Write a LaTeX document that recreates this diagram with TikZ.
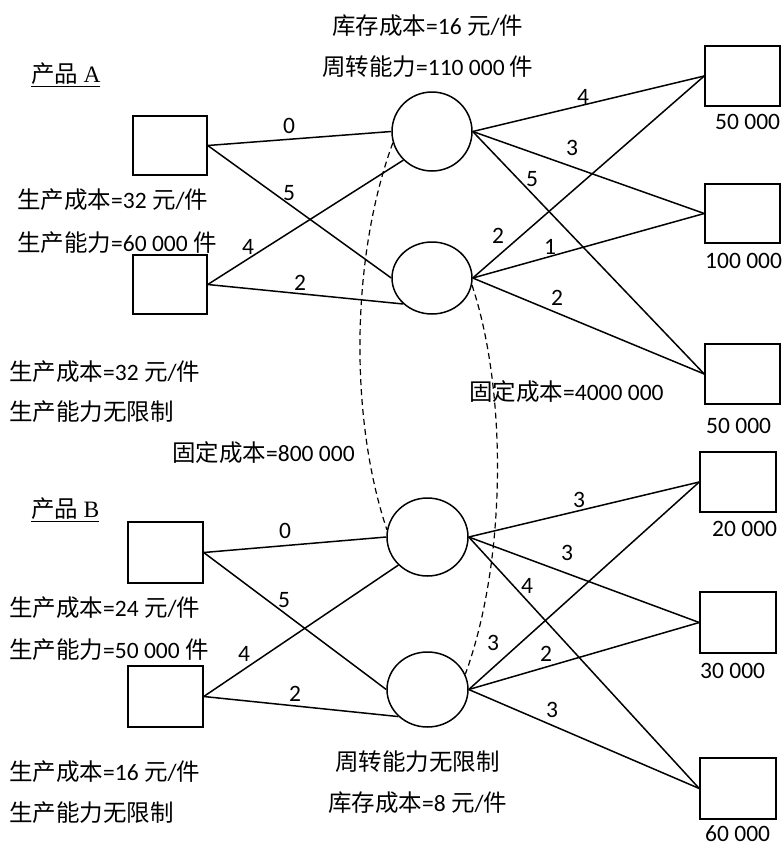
\documentclass[tikz,border=0pt]{standalone}
\usepackage{fontspec}
\setmainfont{Carlito}
\newfontfamily\cjkfont{Noto Sans CJK SC}
\newfontfamily\serfont{Liberation Serif}
\newcommand\zh[1]{{\cjkfont #1}}
\usetikzlibrary{shapes.geometric}
\begin{document}
\begin{tikzpicture}[x=1pt,y=-1pt,
  boxnode/.style={draw, line width=1.5pt, minimum width=75pt, minimum height=60pt, inner sep=0},
  hub/.style={draw, ellipse, line width=1.5pt, inner sep=0, minimum width=80pt},
  link/.style={line width=1.5pt},
  dashlink/.style={line width=1.2pt, dash pattern=on 6pt off 4pt},
  lbl/.style={font=\fontsize{23.5}{28}\selectfont, inner sep=0},
  txt/.style={font=\fontsize{23.5}{28}\selectfont, inner sep=0, anchor=west}]
\useasboundingbox (0,0) rectangle (784,847);

% product A sources
\node[boxnode, minimum width=74pt, minimum height=59pt] (A1) at (170,145.5) {};
\node[boxnode, minimum width=74pt, minimum height=59pt] (A2) at (170,284.5) {};
% warehouses A
\node[hub, minimum height=79pt] (C1) at (432,131.5) {};
\node[hub, minimum height=72pt] (C2) at (432,278) {};
% customers A
\node[boxnode] (R1) at (742.5,76) {};
\node[boxnode, minimum height=59pt] (R2) at (742.5,213.5) {};
\node[boxnode] (R3) at (742.5,374) {};
% product B sources
\node[boxnode, minimum height=61pt] (B1) at (165.5,552.5) {};
\node[boxnode, minimum height=61pt] (B2) at (165.5,696.5) {};
% warehouses B
\node[hub, minimum width=81pt, minimum height=78pt] (C3) at (427.5,537) {};
\node[hub, minimum width=81pt, minimum height=75pt] (C4) at (427.5,689.5) {};
% customers B
\node[boxnode, minimum width=76pt] (R4) at (738,482) {};
\node[boxnode, minimum width=76pt, minimum height=61pt] (R5) at (738,622.5) {};
\node[boxnode, minimum width=76pt, minimum height=61pt] (R6) at (738,788.5) {};

% links A
\draw[link] (A1.east) -- (C1.west);
\draw[link] (A1.east) -- (C2.west);
\draw[link] (A2.east) -- (C1.225);
\draw[link] (A2.east) -- (C2.south west);
\foreach \c in {C1,C2}{
  \draw[link] (\c.east) -- (R1.west);
  \draw[link] (\c.east) -- (R2.west);
  \draw[link] (\c.east) -- (R3.west);
}
% links B
\draw[link] (B1.east) -- (C3.west);
\draw[link] (B1.east) -- (C4.west);
\draw[link] (B2.east) -- (C3.south west);
\draw[link] (B2.east) -- (C4.south west);
\foreach \c in {C3,C4}{
  \draw[link] (\c.east) -- (R4.west);
  \draw[link] (\c.east) -- (R5.west);
  \draw[link] (\c.east) -- (R6.west);
}
% dashed curves
\draw[dashlink] (C1.196) .. controls (350,260) and (350,420) .. (C3.170);
\draw[dashlink] (C2.350) .. controls (507,390) and (507,560) .. (C4.22);

% edge labels A
\node[lbl] (la1) at (289,126) {0};
\node[lbl] (la2) at (289,193) {5};
\node[lbl] (la3) at (248,247) {4};
\node[lbl] (la4) at (300,283) {2};
\node[lbl] (la5) at (583,97) {4};
\node[lbl] (la6) at (572,148) {3};
\node[lbl] (la7) at (532,179) {5};
\node[lbl] (la8) at (498,236) {2};
\node[lbl] (la9) at (550,247) {1};
\node[lbl] (la10) at (557,298) {2};
% edge labels B
\node[lbl] (lb1) at (285,531) {0};
\node[lbl] (lb2) at (284,600) {5};
\node[lbl] (lb3) at (244,654) {4};
\node[lbl] (lb4) at (295,694) {2};
\node[lbl] (lb5) at (579,500) {3};
\node[lbl] (lb6) at (567,553) {3};
\node[lbl] (lb7) at (527,586) {4};
\node[lbl] (lb8) at (493,643) {3};
\node[lbl] (lb9) at (546,654) {2};
\node[lbl] (lb10) at (552,710) {3};

% texts
\node[txt] (t1) at (332,26) {\zh{库存成本}=16 \zh{元}/\zh{件}};
\node[txt] (t2) at (322,67) {\zh{周转能力}=110 000 \zh{件}};
\node[txt] (t3) at (31,75) {\underline{\zh{产品} \serfont A}};
\node[txt] (t4) at (17,200) {\zh{生产成本}=32 \zh{元}/\zh{件}};
\node[txt] (t5) at (17,243) {\zh{生产能力}=60 000 \zh{件}};
\node[txt] (t6) at (9,372) {\zh{生产成本}=32 \zh{元}/\zh{件}};
\node[txt] (t7) at (9,412) {\zh{生产能力无限制}};
\node[txt] (t8) at (172,453) {\zh{固定成本}=800 000};
\node[txt] (t9) at (469,392) {\zh{固定成本}=4000 000};
\node[txt] (t10) at (31,510) {\underline{\zh{产品} \serfont B}};
\node[txt] (t11) at (9,608) {\zh{生产成本}=24 \zh{元}/\zh{件}};
\node[txt] (t12) at (9,650) {\zh{生产能力}=50 000 \zh{件}};
\node[txt] (t13) at (9,772) {\zh{生产成本}=16 \zh{元}/\zh{件}};
\node[txt] (t14) at (9,813) {\zh{生产能力无限制}};
\node[txt] (t15) at (335,762) {\zh{周转能力无限制}};
\node[txt] (t16) at (328,803) {\zh{库存成本}=8 \zh{元}/\zh{件}};
% demands
\node[txt] (d1) at (715,122) {50 000};
\node[txt] (d2) at (705,261) {100 000};
\node[txt] (d3) at (706,426) {50 000};
\node[txt] (d4) at (712,529) {20 000};
\node[txt] (d5) at (700,671) {30 000};
\node[txt] (d6) at (705,834) {60 000};
\end{tikzpicture}
\end{document}
